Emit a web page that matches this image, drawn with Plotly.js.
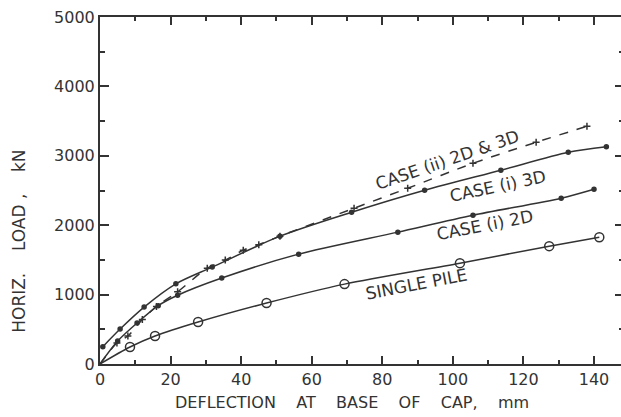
<!DOCTYPE html>
<html>
<head>
<meta charset="utf-8">
<script src="https://cdn.plot.ly/plotly-3.0.1.min.js"></script>
<style>
html,body{margin:0;padding:0;overflow:hidden;background:#fff;}
#chart{width:624px;height:417px;}
</style>
</head>
<body>
<div id="chart"></div>
<script>
// Data
const pileX = [0, 8.5, 15.6, 27.8, 47.2, 69.3, 102, 127.3, 141.5];
const pileY = [0, 245, 403, 604, 878, 1151, 1453, 1698, 1827];

const case2dX = [0, 5, 10.5, 16.5, 22, 34.5, 56.3, 84.4, 105.7, 130.7, 140];
const case2dY = [0, 330, 590, 840, 990, 1238, 1583, 1900, 2144, 2389, 2518];

const case3dX = [0.8, 5.7, 12.5, 21.5, 31.8, 51, 71.3, 92, 113.6, 132.7, 143.5];
const case3dY = [250, 504, 820, 1155, 1396, 1842, 2187, 2504, 2792, 3051, 3130];

const case2X = [0, 4.8, 7.9, 12, 16, 22, 30.4, 35.5, 40.6, 45, 51, 72, 87.2, 105.7, 123.6, 138];
const case2Y = [0, 302, 403, 640, 830, 1040, 1381, 1497, 1640, 1720, 1842, 2245, 2533, 2892, 3195, 3425];

const xRange = [0, 148.5], yRange = [0, 5000];
const xTickStep = 20, xMinorStep = 10;
const yTickStep = 1000, yMinorStep = 500;

const labels = [
  {text: 'CASE (ii) 2D & 3D', x: 98.3, y: 2940, angle: -19},
  {text: 'CASE (i) 3D', x: 112.8, y: 2565, angle: -12},
  {text: 'CASE (i) 2D', x: 109.1, y: 2003, angle: -11},
  {text: 'SINGLE PILE', x: 89.8, y: 1153, angle: -11}
];

const ink = '#333333';
const FONT = 'DejaVu Sans, sans-serif';

function lineTrace(x, y, dash, w) {
  return {x: x, y: y, mode: 'lines', type: 'scatter', hoverinfo: 'skip',
    line: {color: ink, width: w, dash: dash, shape: 'spline', smoothing: 0.8}, showlegend: false};
}
function markTrace(x, y, sym, size) {
  return {x: x, y: y, mode: 'markers', type: 'scatter', hoverinfo: 'skip',
    marker: {symbol: sym, size: size, color: ink, line: {color: ink, width: 1.5}}, showlegend: false};
}

const traces = [
  lineTrace(pileX, pileY, 'solid', 1.5),
  markTrace(pileX.slice(1), pileY.slice(1), 'circle-open', 9),
  lineTrace(case2dX, case2dY, 'solid', 1.5),
  markTrace(case2dX.slice(1), case2dY.slice(1), 'circle', 4),
  lineTrace(case3dX, case3dY, 'solid', 1.5),
  markTrace(case3dX, case3dY, 'circle', 4),
  lineTrace(case2X, case2Y, 'dash', 1.5),
  markTrace(case2X.slice(1), case2Y.slice(1), 'cross-thin', 5)
];

const sp4 = '\u00a0\u00a0\u00a0\u00a0';
const annotations = labels.map(l => ({
  text: l.text, x: l.x, y: l.y, xref: 'x', yref: 'y', showarrow: false,
  textangle: l.angle, font: {family: FONT, size: 17, color: ink}
}));
annotations.push({
  text: 'DEFLECTION' + sp4 + 'AT' + sp4 + 'BASE' + sp4 + 'OF' + sp4 + 'CAP,' + sp4 + 'mm',
  xref: 'paper', yref: 'paper', x: 0.48, y: -0.112, xanchor: 'center', yanchor: 'middle',
  showarrow: false, font: {family: FONT, size: 16, color: ink}
});
annotations.push({
  text: 'HORIZ.' + sp4 + 'LOAD\u00a0,' + sp4 + 'kN',
  xref: 'paper', yref: 'paper', x: -0.155, y: 0.3545, xanchor: 'center', yanchor: 'middle',
  textangle: -90, showarrow: false, font: {family: FONT, size: 17, color: ink}
});

const layout = {
  width: 624, height: 417,
  margin: {l: 100, r: 0, t: 17, b: 53},
  xaxis: {
    range: xRange, tickmode: 'linear', tick0: 0, dtick: xTickStep,
    ticks: 'inside', ticklen: 8, tickwidth: 2, tickcolor: ink,
    showline: true, linecolor: ink, linewidth: 2, mirror: 'allticks',
    showgrid: false, zeroline: false,
    minor: {tickmode: 'linear', tick0: 0, dtick: xMinorStep, ticks: 'inside', ticklen: 4, tickwidth: 2, tickcolor: ink, showgrid: false},
    tickfont: {family: FONT, size: 16, color: ink}
  },
  yaxis: {
    range: yRange, tickmode: 'linear', tick0: 0, dtick: yTickStep,
    ticks: 'inside', ticklen: 9, tickwidth: 2, tickcolor: ink,
    showline: true, linecolor: ink, linewidth: 2, mirror: 'allticks',
    showgrid: false, zeroline: false,
    minor: {tickmode: 'linear', tick0: 0, dtick: yMinorStep, ticks: 'inside', ticklen: 5, tickwidth: 2, tickcolor: ink, showgrid: false},
    tickfont: {family: FONT, size: 16, color: ink}
  },
  annotations: annotations
};

Plotly.newPlot('chart', traces, layout, {staticPlot: true});
</script>
</body>
</html>
